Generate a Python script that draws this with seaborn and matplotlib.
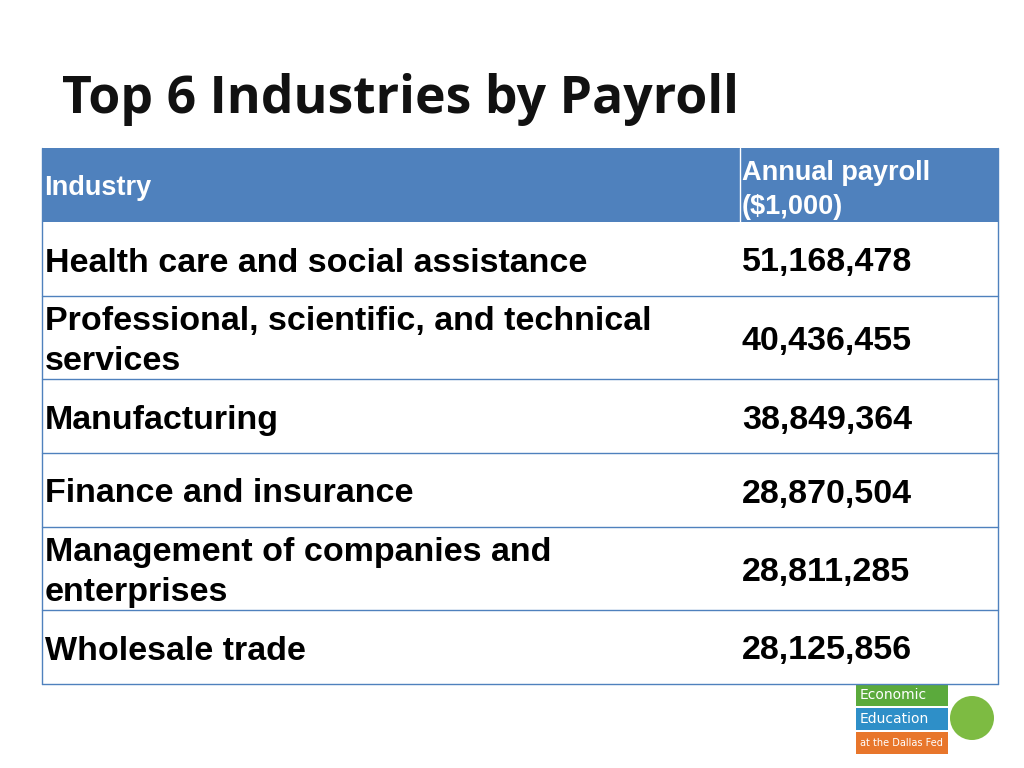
import matplotlib.pyplot as plt
import seaborn as sns

sns.set_theme(style="white")

title = "Top 6 Industries by Payroll"
header = ["Industry", "Annual payroll\n($1,000)"]
industries = [
    "Health care and social assistance",
    "Professional, scientific, and technical\nservices",
    "Manufacturing",
    "Finance and insurance",
    "Management of companies and\nenterprises",
    "Wholesale trade",
]
payroll = [51168478, 40436455, 38849364, 28870504, 28811285, 28125856]

# row boundaries in pixels (top-down)
row_edges = [148, 222, 296, 379, 453, 527, 610, 684]
x_left, x_mid, x_right = 42, 740, 998
blue = "#4F81BD"

fig = plt.figure(figsize=(10.24, 7.68), dpi=100)
ax = fig.add_axes([0, 0, 1, 1])
ax.set_xlim(0, 1024)
ax.set_ylim(768, 0)
ax.axis("off")

ax.text(62, 100, title, fontsize=37.3, fontweight="bold", family="Open Sans",
        va="center", ha="left", color="#111111")

# header
ax.add_patch(plt.Rectangle((x_left, row_edges[0]), x_right - x_left,
                           row_edges[1] - row_edges[0], color=blue, lw=0))
ax.plot([x_mid, x_mid], [row_edges[0], row_edges[1]], color="white", lw=1)
hy = (row_edges[0] + row_edges[1]) / 2
ax.text(x_left + 2, hy + 3, header[0], fontsize=19.5, fontweight="bold",
        family="Liberation Sans", color="white", va="center")
ax.text(x_mid + 2, hy + 5, header[1], fontsize=19.5, fontweight="bold",
        family="Liberation Sans", color="white", va="center", linespacing=1.4)

# body rows
for i, (name, val) in enumerate(zip(industries, payroll)):
    y0, y1 = row_edges[i + 1], row_edges[i + 2]
    yc = (y0 + y1) / 2 + 4
    ax.text(x_left + 3, yc, name, fontsize=24.5, fontweight="bold",
            family="Liberation Sans", color="black", va="center", linespacing=1.35)
    ax.text(x_mid + 2, yc, f"{val:,}", fontsize=24.5, fontweight="bold",
            family="Liberation Sans", color="black", va="center")
    ax.plot([x_left, x_right], [y1, y1], color=blue, lw=1)

ax.plot([x_left, x_left], [row_edges[0], row_edges[-1]], color=blue, lw=1)
ax.plot([x_right, x_right], [row_edges[0], row_edges[-1]], color=blue, lw=1)

# logo
logo = [("Economic", "#5BAA3C", 684), ("Education", "#2E8FC8", 708), ("at the Dallas Fed", "#E8762B", 732)]
for txt, col, y in logo:
    ax.add_patch(plt.Rectangle((856, y), 92, 22, color=col, lw=0))
    ax.text(860, y + 11, txt, fontsize=10 if len(txt) < 12 else 7, color="white", va="center")
ax.add_patch(plt.Circle((972, 718), 22, color="#7DBB42", lw=0))

fig.savefig("out.png", dpi=100)
